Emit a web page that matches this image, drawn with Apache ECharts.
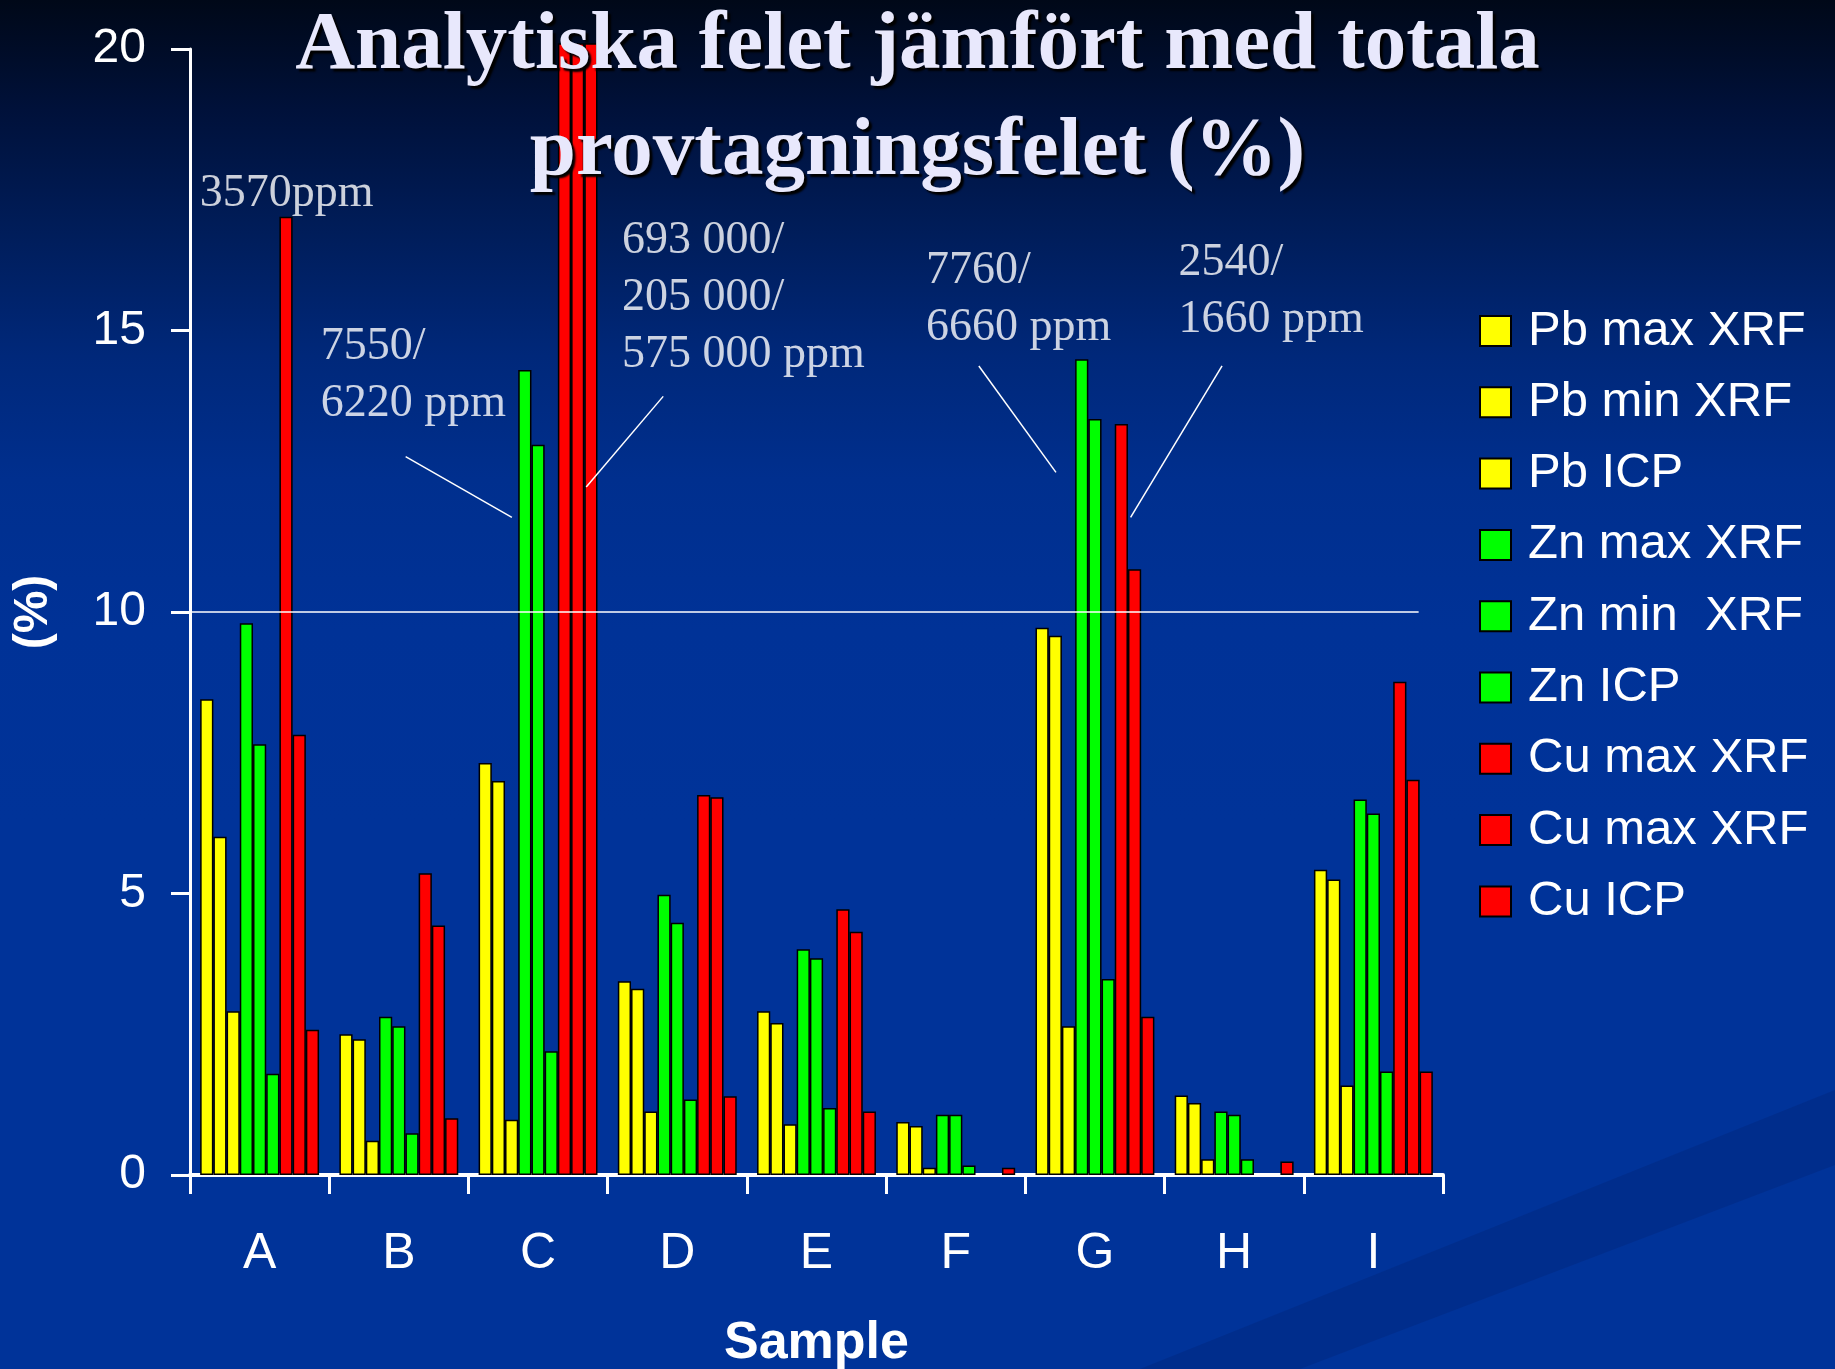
<!DOCTYPE html>
<html>
<head>
<meta charset="utf-8">
<script src="https://cdn.jsdelivr.net/npm/echarts@6/dist/echarts.min.js"></script>
<style>
  html, body { margin: 0; padding: 0; width: 1835px; height: 1369px; overflow: hidden; }
  body {
    background: linear-gradient(to bottom,
      #000818 0%, #00113a 8%, #001d5a 17%, #00287a 26%, #002f8e 35%, #003297 46%, #003399 60%, #003399 100%);
  }
  #chart { width: 1835px; height: 1369px; }
</style>
</head>
<body>
<div id="chart"></div>
<script>
// Samples on the category axis
const samples = ['A', 'B', 'C', 'D', 'E', 'F', 'G', 'H', 'I'];

// Y axis range (%)
const yMin = 0;
const yMax = 20;
const yStep = 5;

// Relative error (%) per sample
const pbMaxXrf  = [8.45, 2.50, 7.32, 3.44, 2.91, 0.94, 9.72, 1.41, 5.42];
const pbMinXrf  = [6.01, 2.41, 7.00, 3.31, 2.70, 0.87, 9.58, 1.28, 5.25];
const pbIcp     = [2.91, 0.61, 0.98, 1.13, 0.90, 0.13, 2.64, 0.28, 1.59];
const znMaxXrf  = [9.80, 2.81, 14.30, 4.98, 4.01, 1.07, 14.49, 1.13, 6.67];
const znMinXrf  = [7.65, 2.64, 12.97, 4.48, 3.85, 1.07, 13.43, 1.07, 6.42];
const znIcp     = [1.80, 0.74, 2.20, 1.34, 1.19, 0.17, 3.48, 0.28, 1.84];
const cuMaxXrf  = [17.02, 5.36, 20.1, 6.75, 4.72, null, 13.34, null, 8.76];
const cuMaxXrf2 = [7.82, 4.43, 20.1, 6.71, 4.32, null, 10.76, null, 7.02];
const cuIcp     = [2.58, 1.01, 20.1, 1.40, 1.13, 0.13, 2.81, 0.24, 1.84];

const seriesNames = ['Pb max XRF', 'Pb min XRF', 'Pb ICP',
                     'Zn max XRF', 'Zn min  XRF', 'Zn ICP',
                     'Cu max XRF', 'Cu max XRF ', 'Cu ICP'];
const seriesValues = [pbMaxXrf, pbMinXrf, pbIcp, znMaxXrf, znMinXrf, znIcp, cuMaxXrf, cuMaxXrf2, cuIcp];
const palette = ['#FFFF00', '#FFFF00', '#FFFF00', '#00FF00', '#00FF00', '#00FF00', '#FF0000', '#FF0000', '#FF0000'];

// Concentration notes, placed in axis units (x: 0..9 across the samples, y: %)
const noteTexts = ['3570ppm', '7550/\n6220 ppm', '693 000/\n205 000/\n575 000 ppm', '7760/\n6660 ppm', '2540/\n1660 ppm'];
const noteAnchors = [[0.067, 17.42], [0.935, 14.2], [3.10, 15.58], [5.283, 15.56], [7.097, 15.69]];
// Leader lines and the 10 % reference line, [x1, y1, x2, y2] in axis units
const leaderLines = [
  [1.549, 12.76, 2.312, 11.68],
  [3.399, 13.83, 2.846, 12.22],
  [5.666, 14.37, 6.220, 12.48],
  [7.413, 14.37, 6.756, 11.68],
  [0, 10, 8.825, 10]
];

const chart = echarts.init(document.getElementById('chart'), null, { renderer: 'canvas', width: 1835, height: 1369 });

const barSeries = seriesNames.map((name, i) => ({
  type: 'bar',
  name: name,
  data: seriesValues[i],
  xAxisIndex: 0,
  yAxisIndex: 0,
  barGap: '0%',
  barCategoryGap: '14.6%',
  clip: false,
  itemStyle: { color: palette[i], borderColor: '#000000', borderWidth: 1.5 },
  emphasis: { disabled: true }
}));

const noteSeries = {
  type: 'scatter',
  name: 'notes',
  xAxisIndex: 1,
  yAxisIndex: 0,
  symbolSize: 1,
  silent: true,
  z: 5,
  itemStyle: { color: 'transparent' },
  data: noteAnchors.map((p, i) => ({ value: p, label: { formatter: noteTexts[i] } })),
  label: {
    show: true,
    position: 'right',
    distance: 0,
    align: 'left',
    verticalAlign: 'middle',
    fontFamily: 'Liberation Serif',
    fontSize: 46,
    lineHeight: 57,
    color: '#FFFFFF'
  },
  markLine: {
    silent: true,
    symbol: ['none', 'none'],
    label: { show: false },
    lineStyle: { color: '#FFFFFF', width: 1.5, type: 'solid', opacity: 1 },
    emphasis: { disabled: true },
    data: leaderLines.map(l => [{ coord: [l[0], l[1]] }, { coord: [l[2], l[3]] }])
  }
};

// Faint diagonal swoosh of the slide background
const backdrop = [
  {
    type: 'polygon', z: -10, silent: true,
    shape: { points: [[1835, 1090], [1835, 1165], [1300, 1369], [1140, 1369]] },
    style: { fill: 'rgba(0, 22, 85, 0.18)' }
  }
];

chart.setOption({
  animation: false,
  backgroundColor: 'transparent',
  textStyle: { fontFamily: 'Liberation Sans' },
  graphic: { elements: backdrop },
  title: {
    text: 'Analytiska felet jämfört med totala\nprovtagningsfelet (%)',
    left: 'center',
    top: -11,
    textStyle: {
      fontFamily: 'Liberation Serif',
      fontWeight: 'bold',
      fontSize: 83,
      lineHeight: 106,
      color: '#E8E8FC',
      textShadowColor: '#000000',
      textShadowOffsetX: 3,
      textShadowOffsetY: 3,
      textShadowBlur: 2
    }
  },
  legend: {
    orient: 'vertical',
    left: 1474,
    top: 301,
    itemWidth: 31,
    itemHeight: 30,
    itemGap: 21.3,
    icon: 'rect',
    selectedMode: false,
    data: seriesNames,
    textStyle: {
      color: '#FFFFFF',
      fontFamily: 'Liberation Sans',
      fontSize: 49,
      lineHeight: 50,
      padding: [0, 0, 0, 12]
    }
  },
  grid: { left: 190, width: 1253, top: 49, height: 1126, containLabel: false, outerBoundsMode: 'none' },
  xAxis: [
    {
      type: 'category',
      data: samples,
      boundaryGap: true,
      axisLine: { show: true, lineStyle: { color: '#FFFFFF', width: 4 } },
      axisTick: { show: true, length: 19, alignWithLabel: false, lineStyle: { color: '#FFFFFF', width: 3 } },
      axisLabel: { color: '#FFFFFF', fontFamily: 'Liberation Sans', fontSize: 50, margin: 54 },
      splitLine: { show: false },
      name: 'Sample',
      nameLocation: 'middle',
      nameGap: 143,
      nameTextStyle: { color: '#FFFFFF', fontFamily: 'Liberation Sans', fontSize: 52, fontWeight: 'bold' }
    },
    { type: 'value', min: 0, max: samples.length, show: false }
  ],
  yAxis: {
    type: 'value',
    min: yMin,
    max: yMax,
    interval: yStep,
    axisLine: { show: true, lineStyle: { color: '#FFFFFF', width: 3 } },
    axisTick: { show: true, length: 19, lineStyle: { color: '#FFFFFF', width: 3 } },
    axisLabel: { color: '#FFFFFF', fontFamily: 'Liberation Sans', fontSize: 48, margin: 44 },
    splitLine: { show: false },
    name: '(%)',
    nameLocation: 'middle',
    nameRotate: 90,
    nameGap: 132,
    nameTextStyle: { color: '#FFFFFF', fontFamily: 'Liberation Sans', fontSize: 48, fontWeight: 'bold' }
  },
  series: barSeries.concat([noteSeries])
});
</script>
</body>
</html>
